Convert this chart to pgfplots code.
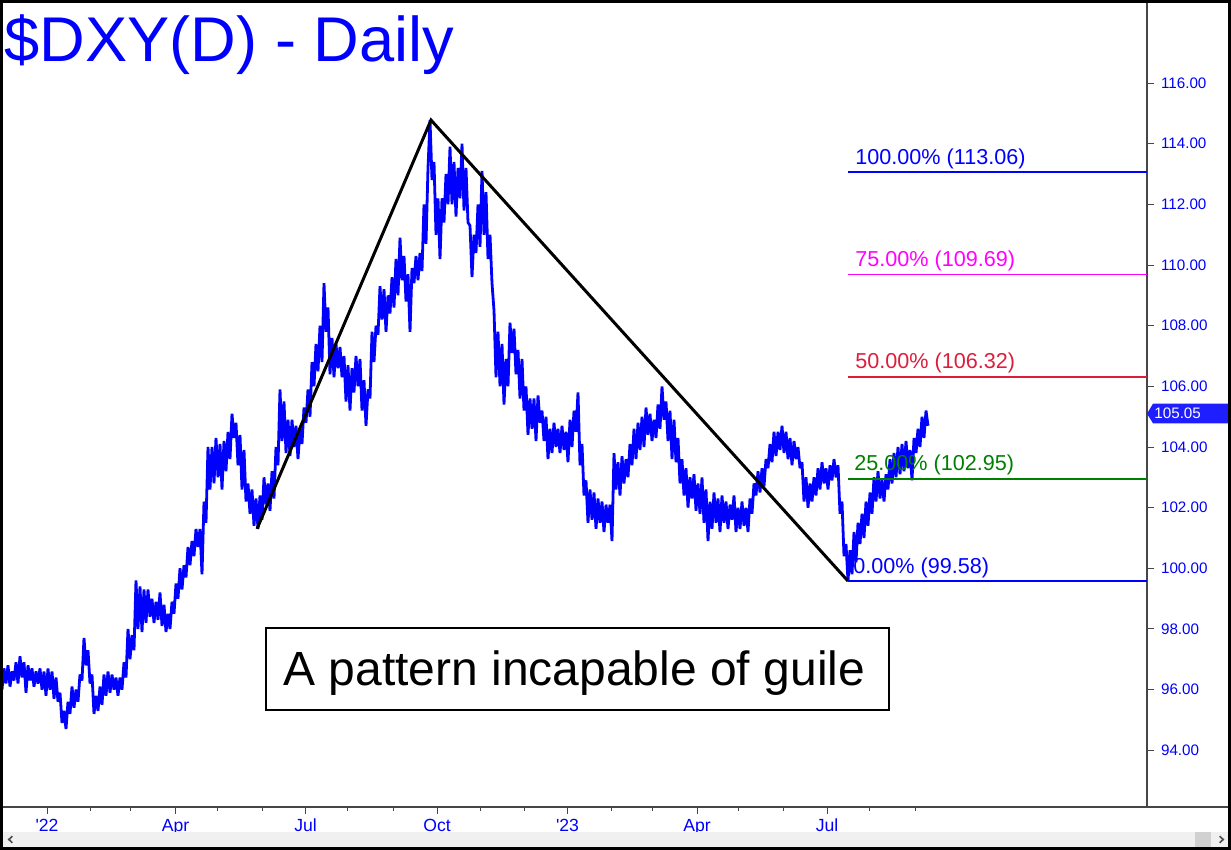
\documentclass[border=0pt]{standalone}
\usepackage{fontspec}
\setmainfont{Liberation Sans}
\usepackage{pgfplots}
\pgfplotsset{compat=1.18}

\definecolor{fibblue}{RGB}{0,0,255}
\definecolor{fibmag}{RGB}{255,0,255}
\definecolor{fibred}{RGB}{220,30,60}
\definecolor{fibgreen}{RGB}{0,128,0}
\definecolor{axgray}{RGB}{70,70,70}
\definecolor{tagblue}{RGB}{30,30,255}

\begin{document}
\begin{tikzpicture}
\useasboundingbox (0pt,-21.5pt) rectangle (615.5pt,403.5pt);
\begin{axis}[
    at={(0pt,0pt)}, anchor=south west,
    scale only axis, width=573.5pt, height=403.5pt,
    xmin=0, xmax=573.5, ymin=92.13, ymax=118.74,
    axis x line*=bottom, axis y line*=right,
    axis line style={axgray, line width=0.6pt},
    tick align=outside,
    major tick length=3.5pt, minor tick length=2pt,
    tick style={axgray, line width=0.5pt},
    xtick={23.5,87.75,152.75,218.5,283.75,348.5,413.5},
    xticklabels={\textquotesingle 22,Apr,Jul,Oct,\textquotesingle 23,Apr,Jul},
    minor xtick={45,65,108.5,131,173.5,196.5,240,262,305.5,326,369,391.5,434.5,457.5},
    ytick={94,96,...,116},
    yticklabel={\pgfmathprintnumber[fixed,fixed zerofill,precision=2,assume math mode=true]{\tick}},
    yticklabel style={font=\fontsize{7.6}{9}\selectfont, text=blue},
    xticklabel style={font=\fontsize{8.8}{10}\selectfont, text=blue, yshift=1pt},
    clip=false,
]
% daily range, drawn as a high/low zigzag (x = bar position)
\addplot[fibblue, line width=1.4pt, line join=bevel] table {
x y
1 96.0
2 96.7
3 96.2
4 96.8
5 96.1
6 96.6
7 96.3
8 96.9
9 96.2
10 97.1
11 96.4
12 96.9
13 95.9
14 96.8
15 96.3
16 96.7
17 96.1
18 96.6
19 96.2
20 96.7
21 96.0
22 96.6
23 95.8
24 96.7
25 96.0
26 96.6
27 95.7
28 96.4
29 95.6
30 95.9
31 94.9
32 95.3
33 94.7
34 95.6
35 95.2
36 96.1
37 95.4
38 96.0
39 95.6
40 96.5
41 96.3
42 97.7
43 96.8
44 97.3
45 96.2
46 96.5
47 95.2
48 95.8
49 95.3
50 96.1
51 95.5
52 96.5
53 95.8
54 96.6
55 95.9
56 96.5
57 96.0
58 96.4
59 95.8
60 96.4
61 96.0
62 96.9
63 96.4
64 98.0
65 97.0
66 97.8
67 97.3
68 99.6
69 98.0
70 99.4
71 97.9
72 99.3
73 98.2
74 99.3
75 98.4
76 99.0
77 98.2
78 98.9
79 98.3
80 99.2
81 98.1
82 98.8
83 97.9
84 98.5
85 98.0
86 98.9
87 98.5
88 99.5
89 99.0
90 100.0
91 99.3
92 100.1
93 99.7
94 100.7
95 100.1
96 100.9
97 100.4
98 101.3
99 100.7
100 101.3
101 99.8
102 102.2
103 101.5
104 104.0
105 102.6
106 104.0
107 102.8
108 104.3
109 103.0
110 104.1
111 102.6
112 104.2
113 103.2
114 104.5
115 103.6
116 105.1
117 104.3
118 104.8
119 103.4
120 104.4
121 102.6
122 103.9
123 102.2
124 102.8
125 101.8
126 102.6
127 101.4
128 102.3
129 101.3
130 102.4
131 101.6
132 103.0
133 102.1
134 102.8
135 101.9
136 103.2
137 102.3
138 104.0
139 103.4
140 105.9
141 104.2
142 105.5
143 103.8
144 104.9
145 103.7
146 104.9
147 104.0
148 104.7
149 103.6
150 104.6
151 104.1
152 105.3
153 104.8
154 105.9
155 105.0
156 106.8
157 106.0
158 107.4
159 106.5
160 108.0
161 106.8
162 109.4
163 107.8
164 108.6
165 106.4
166 107.6
167 106.3
168 107.4
169 106.6
170 107.3
171 106.3
172 107.0
173 105.5
174 106.7
175 105.2
176 106.6
177 105.8
178 107.0
179 106.0
180 106.9
181 105.2
182 106.2
183 104.7
184 105.9
185 105.6
186 107.8
187 106.8
188 108.0
189 107.7
190 109.3
191 108.2
192 109.2
193 107.8
194 109.0
195 108.4
196 109.6
197 108.6
198 110.2
199 109.0
200 110.9
201 109.5
202 110.3
203 108.8
204 109.7
205 107.8
206 109.9
207 109.4
208 110.3
209 109.5
210 110.4
211 109.8
212 112.0
213 110.7
214 113.2
215 114.78
216 112.8
217 113.4
218 111.0
219 112.2
220 110.2
221 112.2
222 111.4
223 113.0
224 112.0
225 113.9
226 112.0
227 113.4
228 111.6
229 113.2
230 112.2
231 114.0
232 111.8
233 113.2
234 111.4
235 111.3
236 109.6
237 111.0
238 110.4
239 112.0
240 110.6
241 113.1
242 111.0
243 112.4
244 110.2
245 111.0
246 109.4
247 108.5
248 106.3
249 107.8
250 106.0
251 107.4
252 105.4
253 106.9
254 106.0
255 108.1
256 107.1
257 107.9
258 106.4
259 107.2
260 105.6
261 106.9
262 105.2
263 106.0
264 104.4
265 105.6
266 104.6
267 105.6
268 104.2
269 105.7
270 104.8
271 105.2
272 104.2
273 105.0
274 103.6
275 104.6
276 103.8
277 104.8
278 104.0
279 104.6
280 103.8
281 104.7
282 103.9
283 104.5
284 103.5
285 104.9
286 104.0
287 105.2
288 104.5
289 105.8
290 103.4
291 104.1
292 102.4
293 102.9
294 101.5
295 102.6
296 101.6
297 102.5
298 101.3
299 102.3
300 101.5
301 102.2
302 101.2
303 102.1
304 101.5
305 102.1
306 100.9
307 103.8
308 102.6
309 103.5
310 102.4
311 103.7
312 102.8
313 103.6
314 103.0
315 104.1
316 103.4
317 104.6
318 103.6
319 104.8
320 103.9
321 105.0
322 104.0
323 105.3
324 104.4
325 105.1
326 104.2
327 104.9
328 104.3
329 105.4
330 104.6
331 106.0
332 104.9
333 105.5
334 104.2
335 105.2
336 103.6
337 104.9
338 103.5
339 104.3
340 102.8
341 103.6
342 102.4
343 103.3
344 102.0
345 103.0
346 102.3
347 103.1
348 101.9
349 102.8
350 101.8
351 103.0
352 101.5
353 102.6
354 100.9
355 102.2
356 101.3
357 102.5
358 101.5
359 102.3
360 101.2
361 102.4
362 101.5
363 102.2
364 101.3
365 102.1
366 101.6
367 102.4
368 101.2
369 102.0
370 101.3
371 102.2
372 101.4
373 102.0
374 101.2
375 102.3
376 101.8
377 102.8
378 102.4
379 103.2
380 102.5
381 103.3
382 102.7
383 103.6
384 103.3
385 104.1
386 103.5
387 104.5
388 103.7
389 104.5
390 103.9
391 104.7
392 103.8
393 104.5
394 103.6
395 104.3
396 103.4
397 104.2
398 103.6
399 104.0
400 103.3
401 103.5
402 102.2
403 103.0
404 102.0
405 102.8
406 102.2
407 103.0
408 102.4
409 103.3
410 102.6
411 103.5
412 102.8
413 103.3
414 102.6
415 103.4
416 102.9
417 103.6
418 103.0
419 103.4
420 101.8
421 102.2
422 100.4
423 100.8
424 99.58
425 100.6
426 99.8
427 101.2
428 100.2
429 101.5
430 100.8
431 101.8
432 101.0
433 102.2
434 101.4
435 102.5
436 101.8
437 103.0
438 102.2
439 103.2
440 102.3
441 102.9
442 102.2
443 103.1
444 102.6
445 103.6
446 102.8
447 103.8
448 103.0
449 104.0
450 103.1
451 104.1
452 103.2
453 104.2
454 103.3
455 103.9
456 102.9
457 104.3
458 103.8
459 104.6
460 104.0
461 105.0
462 104.3
463 105.2
464 104.7
};
% pattern A-B-C
\addplot[black, line width=1.5pt, line join=miter] coordinates {(128.5,101.30) (215.5,114.78) (424,99.58)};
% target levels
\addplot[fibblue, line width=0.9pt] coordinates {(424,113.06) (573.5,113.06)};
\addplot[fibmag, line width=0.9pt] coordinates {(424,109.69) (573.5,109.69)};
\addplot[fibred, line width=0.9pt] coordinates {(424,106.32) (573.5,106.32)};
\addplot[fibgreen, line width=0.9pt] coordinates {(424,102.95) (573.5,102.95)};
\addplot[fibblue, line width=0.9pt] coordinates {(424,99.58) (573.5,99.58)};
\node[anchor=base west, inner sep=0, yshift=4pt, text=fibblue, font=\fontsize{10.8}{13}\selectfont] at (axis cs:427.5,113.06) {100.00\% (113.06)};
\node[anchor=base west, inner sep=0, yshift=4pt, text=fibmag, font=\fontsize{10.8}{13}\selectfont] at (axis cs:427.5,109.69) {75.00\% (109.69)};
\node[anchor=base west, inner sep=0, yshift=4pt, text=fibred, font=\fontsize{10.8}{13}\selectfont] at (axis cs:427.5,106.32) {50.00\% (106.32)};
\node[anchor=base west, inner sep=0, yshift=4pt, text=fibgreen, font=\fontsize{10.8}{13}\selectfont] at (axis cs:427,102.95) {25.00\% (102.95)};
\node[anchor=base west, inner sep=0, yshift=4pt, text=fibblue, font=\fontsize{10.8}{13}\selectfont] at (axis cs:426.5,99.58) {0.00\% (99.58)};
% last price tag
\fill[tagblue] (axis cs:573.5,105.10) -- (axis cs:576.5,105.43) -- (axis cs:614,105.43) -- (axis cs:614,104.78) -- (axis cs:576.5,104.78) -- cycle;
\node[anchor=west, inner sep=0, text=white, font=\fontsize{7.6}{9}\selectfont] at (axis cs:577,105.10) {105.05};
\end{axis}
% title
\node[anchor=base west, inner sep=0, text=blue, font=\fontsize{31.6}{36}\selectfont] at (2.2pt,372.5pt) {\$DXY(D) - Daily};
% comment box
\draw[line width=1pt] (133pt,48.5pt) rectangle (444.5pt,89.5pt);
\node[anchor=base west, inner sep=0, font=\fontsize{24}{28}\selectfont] at (141.5pt,60.5pt) {A pattern incapable of guile};
% bottom line to the right edge, scroll bar, frame
\draw[axgray, line width=0.6pt] (573.5pt,0pt) -- (614pt,0pt);
\fill[black!6] (1.5pt,-20pt) rectangle (614pt,-12.5pt);
\fill[black!18] (597.5pt,-20pt) rectangle (605.5pt,-12.5pt);
\draw[black!70, line width=0.8pt] (6.2pt,-14.6pt) -- (4.4pt,-16.25pt) -- (6.2pt,-17.9pt);
\draw[black!70, line width=0.8pt] (609.8pt,-14.6pt) -- (611.6pt,-16.25pt) -- (609.8pt,-17.9pt);
\draw[line width=1.5pt] (0.75pt,-20.75pt) rectangle (614.75pt,402.75pt);
\end{tikzpicture}
\end{document}
